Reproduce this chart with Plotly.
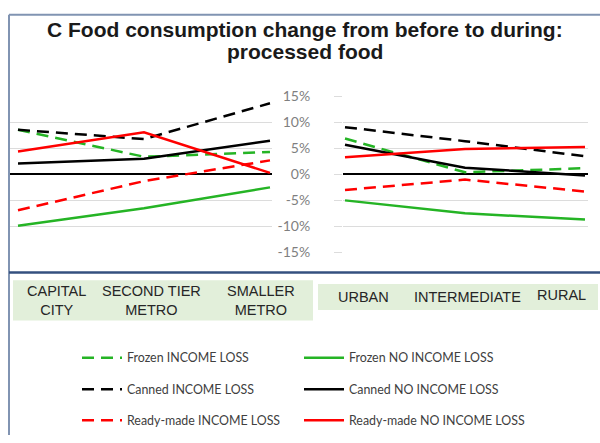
import plotly.graph_objects as go

W, H = 600, 443

left_cats = ["CAPITAL CITY", "SECOND TIER METRO", "SMALLER METRO"]
right_cats = ["URBAN", "INTERMEDIATE", "RURAL"]
left_labels = ["CAPITAL<br>CITY", "SECOND TIER<br>METRO", "SMALLER<br>METRO"]
right_labels = ["URBAN", "INTERMEDIATE", "RURAL"]

# values in %
frozen_il_left = [8.6, 3.4, 4.3]
frozen_nil_left = [-9.9, -6.5, -2.5]
canned_il_left = [8.6, 6.8, 13.7]
canned_nil_left = [2.1, 3.0, 6.5]
ready_il_left = [-6.9, -1.3, 2.7]
ready_nil_left = [4.4, 8.1, 0.3]

frozen_il_right = [6.9, 0.4, 1.2]
frozen_nil_right = [-5.0, -7.5, -8.7]
canned_il_right = [9.1, 6.4, 3.5]
canned_nil_right = [5.7, 1.3, -0.2]
ready_il_right = [-3.0, -1.0, -3.3]
ready_nil_right = [3.3, 4.9, 5.3]

y_tickvals = [15, 10, 5, 0, -5, -10, -15]
y_ticktext = ["15%", "10%", "5%", "0%", "-5%", "-10%", "-15%"]

series_names = ["Frozen INCOME LOSS", "Frozen NO INCOME LOSS",
                "Canned INCOME LOSS", "Canned NO INCOME LOSS",
                "Ready-made INCOME LOSS", "Ready-made NO INCOME LOSS"]

GREEN, BLACK, RED = "#25b425", "#000000", "#ff0000"
DASH = "12px,7px"
styles = [(GREEN, DASH), (GREEN, "solid"), (BLACK, DASH), (BLACK, "solid"),
          (RED, DASH), (RED, "solid")]
legend_ids = ["legend", "legend2", "legend3", "legend4", "legend5", "legend6"]

left_vals = [frozen_il_left, frozen_nil_left, canned_il_left, canned_nil_left,
             ready_il_left, ready_nil_left]
right_vals = [frozen_il_right, frozen_nil_right, canned_il_right, canned_nil_right,
              ready_il_right, ready_nil_right]

fig = go.Figure()
for name, (c, d), lg, lv, rv in zip(series_names, styles, legend_ids, left_vals, right_vals):
    fig.add_trace(go.Scatter(x=left_cats, y=lv, mode="lines", name=name,
                             line=dict(color=c, dash=d, width=2.5),
                             xaxis="x", yaxis="y", legend=lg, showlegend=True))
    fig.add_trace(go.Scatter(x=right_cats, y=rv, mode="lines", name=name,
                             line=dict(color=c, dash=d, width=2.5),
                             xaxis="x2", yaxis="y2", showlegend=False))

def px(x):
    return x / W

def py(y):
    return 1 - y / H

ydom = [py(253), py(91)]
GRID = "#dcdcdc"

fig.update_layout(
    width=W, height=H, margin=dict(l=0, r=0, t=0, b=0),
    paper_bgcolor="white", plot_bgcolor="white",
    xaxis=dict(domain=[px(10), px(272)], type="category", categoryorder="array",
               categoryarray=left_cats, range=[-0.0635, 2.016],
               showticklabels=False, showgrid=False, zeroline=False, anchor="y"),
    yaxis=dict(domain=ydom, range=[-15, 15], tickvals=y_tickvals,
               showticklabels=False, gridcolor=GRID, gridwidth=1,
               zeroline=True, zerolinecolor="#000000", zerolinewidth=1.5,
               anchor="x"),
    xaxis2=dict(domain=[px(343), px(588)], type="category", categoryorder="array",
                categoryarray=right_cats, range=[-0.0167, 2.025],
                showticklabels=False, showgrid=False, zeroline=False, anchor="y2"),
    yaxis2=dict(domain=ydom, range=[-15, 15], tickvals=y_tickvals, ticktext=y_ticktext,
                gridcolor=GRID, gridwidth=1, zeroline=True, zerolinecolor="#000000",
                zerolinewidth=1.5, anchor="x2", ticks="outside", ticklen=8,
                tickcolor=GRID, ticklabelstandoff=21,
                tickfont=dict(family="Lato", size=14, color="#7f7f7f")),
    showlegend=True,
)

legend_common = dict(orientation="h", xanchor="left", yanchor="middle",
                     bgcolor="rgba(0,0,0,0)", borderwidth=0,
                     font=dict(family="Lato", size=12.4, color="#404040"),
                     itemwidth=40)
legend_cols = [77, 299]
legend_rows = [363, 396, 428]
legend_layout = {}
for i, lg in enumerate(legend_ids):
    legend_layout[lg] = dict(x=px(legend_cols[i % 2]), y=py(legend_rows[i // 2]),
                             **legend_common)
fig.update_layout(**legend_layout)

shapes = []
FRAME = "#8194b2"
shapes.append(dict(type="line", xref="paper", yref="paper", x0=px(9), x1=1,
                   y0=py(6), y1=py(6), line=dict(color=FRAME, width=2)))
shapes.append(dict(type="line", xref="paper", yref="paper", x0=px(9), x1=px(9),
                   y0=py(6), y1=0, line=dict(color=FRAME, width=2)))
shapes.append(dict(type="line", xref="paper", yref="paper", x0=px(9), x1=1,
                   y0=py(274), y1=py(274), line=dict(color="#34507f", width=2.5)))
BOX = "#e2efda"
shapes.append(dict(type="rect", xref="paper", yref="paper", x0=px(13), x1=px(313),
                   y0=py(324), y1=py(282), fillcolor=BOX, line=dict(width=0), layer="below"))
shapes.append(dict(type="rect", xref="paper", yref="paper", x0=px(318), x1=px(598),
                   y0=py(313), y1=py(286), fillcolor=BOX, line=dict(width=0), layer="below"))
fig.update_layout(shapes=shapes)

title_lines = ["C Food consumption change from before to during:", "processed food"]
title_pos = [(305, 21), (305, 44)]
annotations = []
for t, (x, y) in zip(title_lines, title_pos):
    annotations.append(dict(text="<b>" + t + "</b>", xref="paper", yref="paper",
                            x=px(x), y=py(y), xanchor="center", yanchor="middle",
                            showarrow=False,
                            font=dict(family="Liberation Sans", size=21, color="#1a1a1a")))
left_pos = [(56, 303), (151, 303), (261, 303)]
right_pos = [(363, 300), (467, 300), (561, 297)]
for lab, (x, y) in zip(left_labels + right_labels, left_pos + right_pos):
    annotations.append(dict(text=lab, xref="paper", yref="paper", x=px(x), y=py(y),
                            xanchor="center", yanchor="middle", showarrow=False,
                            font=dict(family="Liberation Sans", size=14.5, color="#262626")))
fig.update_layout(annotations=annotations)

fig.write_html(
    "out.html",
    config={"displayModeBar": False},
    post_script="document.body.style.margin='0';document.body.style.overflow='hidden';",
)
